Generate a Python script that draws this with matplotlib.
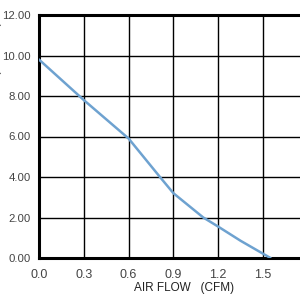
import matplotlib
matplotlib.use("Agg")
import matplotlib.pyplot as plt

# fan curve: static pressure vs air flow
flow = [0.0, 0.3, 0.6, 0.81, 0.9, 1.1, 1.2, 1.35, 1.55]
pressure = [9.8, 7.8, 5.9, 4.0, 3.2, 2.0, 1.55, 0.85, 0.0]

x_ticks = [0.0, 0.3, 0.6, 0.9, 1.2, 1.5]
y_ticks = [0, 2, 4, 6, 8, 10, 12]

plt.rcParams['font.family'] = ['Liberation Sans', 'DejaVu Sans']

fig = plt.figure(figsize=(3, 3), dpi=100)
ax = fig.add_axes([0.13, 0.14, 0.896, 0.81])

ax.plot(flow, pressure, color='#6ea2d0', lw=1.8, solid_capstyle='round', zorder=3)

ax.set_xlim(0, 1.8)
ax.set_ylim(0, 12)
ax.set_xticks(x_ticks)
ax.set_xticklabels([f"{v:.1f}" for v in x_ticks])
ax.set_yticks(y_ticks)
ax.set_yticklabels([f"{v:.2f}" for v in y_ticks])
ax.tick_params(length=0, labelsize=9, colors='#444444')
ax.tick_params(axis='x', pad=8)
ax.tick_params(axis='y', pad=6, labelsize=8.2)
ax.grid(True, color='black', lw=1)
# grid line at 1.8 (beyond the last labelled tick)
ax.axvline(1.8, color='black', lw=1)

for s in ['left', 'bottom', 'top']:
    ax.spines[s].set_linewidth(2.2)
ax.spines['right'].set_visible(False)

ax.set_xlabel("AIR FLOW   (CFM)", fontsize=8.5, color='#222222')
ax.xaxis.set_label_coords(0.54, -0.1)
ax.set_ylabel("STATIC PRESSURE (mmH2O)", fontsize=9, color='#555555')
ax.yaxis.set_label_coords(-0.138, 0.62)

fig.savefig("out.png", dpi=100)
